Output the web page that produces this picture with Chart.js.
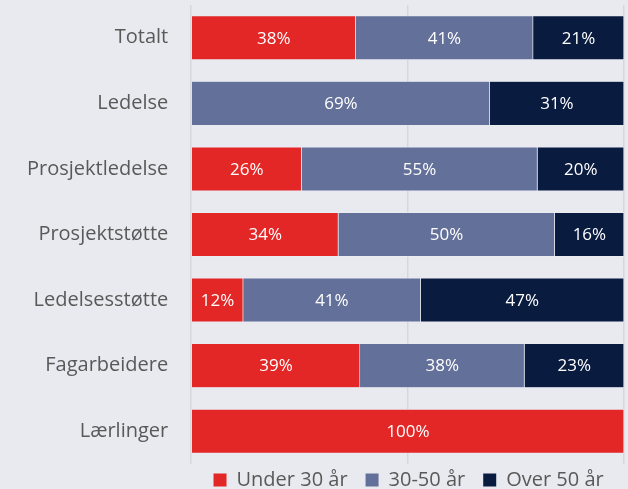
<!DOCTYPE html>
<html>
<head>
<meta charset="utf-8">
<script src="https://cdn.jsdelivr.net/npm/chart.js@4.4.1/dist/chart.umd.min.js"></script>
<style>
html,body{margin:0;padding:0;background:#e9eaf0;}
#wrap{width:628px;height:489px;}
</style>
</head>
<body>
<div id="wrap"><canvas id="c" width="628" height="489"></canvas></div>
<script>
const categories = ["Totalt","Ledelse","Prosjektledelse","Prosjektstøtte","Ledelsesstøtte","Fagarbeidere","Lærlinger"];
const under30 = [38, 0, 25.5, 34, 12, 39, 100];
const age30to50 = [41, 69, 54.5, 50, 41, 38, 0];
const over50 = [21, 31, 20, 16, 47, 23, 0];
const seriesNames = ["Under 30 år","30-50 år","Over 50 år"];
const xTicks = [0, 50, 100];

const FONT = "'Open Sans', 'Noto Sans', sans-serif";

const barLabels = {
  id: 'barLabels',
  afterDatasetsDraw(chart) {
    const ctx = chart.ctx;
    ctx.save();
    ctx.fillStyle = '#ffffff';
    ctx.font = '17px ' + FONT;
    ctx.textAlign = 'center';
    ctx.textBaseline = 'middle';
    chart.data.datasets.forEach((ds, i) => {
      const meta = chart.getDatasetMeta(i);
      meta.data.forEach((bar, j) => {
        const v = ds.data[j];
        if (!v) return;
        const x = (bar.x + bar.base) / 2;
        ctx.fillText(Math.round(v) + '%', x, bar.y + 1);
      });
    });
    ctx.restore();
  }
};

// place the legend row just below the plot, keeping wide spacing between items
const legendPlace = {
  id: 'legendPlace',
  beforeDraw(chart) {
    const lg = chart.legend;
    if (!lg) return;
    lg.top = chart.height - 37;
    lg.bottom = chart.height;
    lg.left = chart.chartArea.left + 1;
    lg.right = chart.chartArea.right + 1;
  }
};

new Chart(document.getElementById('c'), {
  type: 'bar',
  data: {
    labels: categories,
    datasets: [
      {label: seriesNames[0], data: under30, backgroundColor: '#e32626', borderColor: '#eceef3', borderWidth: 0.6},
      {label: seriesNames[1], data: age30to50, backgroundColor: '#637099', borderColor: '#eceef3', borderWidth: 0.6},
      {label: seriesNames[2], data: over50, backgroundColor: '#0a1b40', borderColor: '#eceef3', borderWidth: 0.6}
    ]
  },
  options: {
    indexAxis: 'y',
    responsive: false,
    animation: false,
    layout: {padding: {top: 5, right: 4, left: 4, bottom: 0}},
    datasets: {bar: {categoryPercentage: 0.675, barPercentage: 1}},
    scales: {
      x: {
        stacked: true, min: 0, max: 100,
        afterBuildTicks(scale) { scale.ticks = xTicks.map(v => ({value: v})); },
        ticks: {display: false},
        grid: {color: '#d6d7dc', lineWidth: 1.5, drawTicks: false},
        border: {display: false}
      },
      y: {
        stacked: true,
        grid: {display: false, drawTicks: false},
        border: {display: false},
        ticks: {color: '#595959', font: {family: FONT, size: 20}, padding: 23},
        afterFit(scale) { scale.paddingTop = 0; scale.paddingBottom = 0; }
      }
    },
    plugins: {
      legend: {
        position: 'bottom',
        fullSize: false,
        maxHeight: 25,
        labels: {
          color: '#595959',
          font: {family: FONT, size: 20},
          boxWidth: 13, boxHeight: 13,
          padding: 18,
          generateLabels(chart) {
            return chart.data.datasets.map((ds, i) => ({
              text: ds.label, fillStyle: ds.backgroundColor, strokeStyle: ds.backgroundColor,
              lineWidth: 0, datasetIndex: i, fontColor: '#595959'
            }));
          }
        }
      },
      tooltip: {enabled: false}
    }
  },
  plugins: [barLabels, legendPlace]
});
</script>
</body>
</html>
